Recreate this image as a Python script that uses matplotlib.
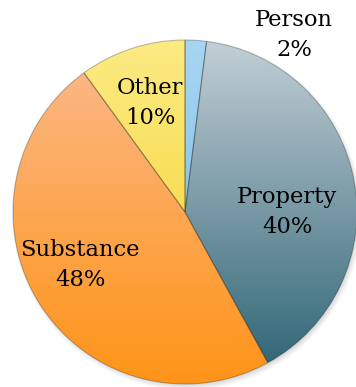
import matplotlib.pyplot as plt
import numpy as np
from matplotlib.colors import LinearSegmentedColormap
from matplotlib.patches import Circle

labels = ['Person', 'Property', 'Substance', 'Other']
shares = [2, 40, 48, 10]
# top / bottom colour of each slice's vertical gradient
tops = ['#a8d6f2', '#c3cfd6', '#fbba8e', '#fceb84']
bottoms = ['#6cb6e0', '#2a6172', '#ff9418', '#f4cf22']

W, H = 356, 387
cx, cy, r = 185, H - 212, 172

fig = plt.figure(figsize=(W / 100, H / 100), dpi=100)
ax = fig.add_axes([0, 0, 1, 1])

# soft drop shadow under the pie
for k in range(6):
    ax.add_patch(Circle((cx + 2, cy - 3), r + 3 - k, facecolor='black',
                        alpha=0.025, linewidth=0, zorder=0))

wedges, _ = ax.pie(shares, startangle=90, counterclock=False,
                   center=(cx, cy), radius=r, frame=True,
                   wedgeprops=dict(linewidth=0.8, edgecolor=(0, 0, 0, 0.25)))
ax.set_xlim(0, W)
ax.set_ylim(0, H)
ax.set_aspect('equal')
ax.axis('off')

grad = np.linspace(0, 1, 256).reshape(-1, 1)
for w, t, b in zip(wedges, tops, bottoms):
    cmap = LinearSegmentedColormap.from_list('g', [t, b])
    im = ax.imshow(grad, cmap=cmap, aspect='auto',
                   extent=(cx - r, cx + r, cy - r, cy + r), origin='upper',
                   zorder=w.get_zorder() + 0.1)
    im.set_clip_path(w)
    w.set_facecolor('none')
    w.set_zorder(w.get_zorder() + 0.2)

font = dict(family='DejaVu Serif', fontsize=16.3, color='black',
            ha='center', va='center', zorder=5, linespacing=1.42)
positions = [(294, H - 35), (287, H - 212), (80, H - 265), (150, H - 103)]
for name, val, (x, y) in zip(labels, shares, positions):
    ax.text(x, y, f'{name}\n{val}%', **font)

fig.savefig('out.png', dpi=100)
